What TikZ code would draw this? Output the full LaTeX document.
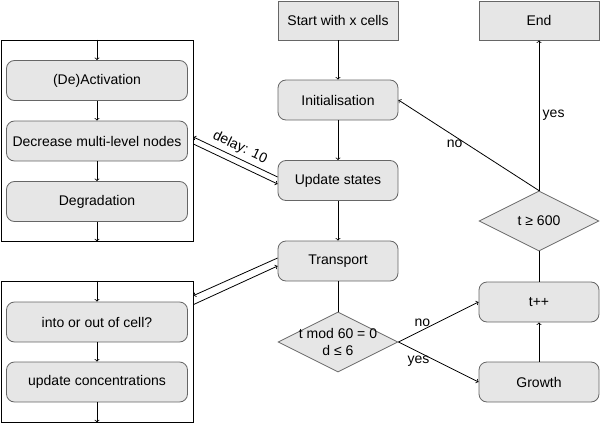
\documentclass[tikz,border=0pt]{standalone}
\usepackage{fontspec}
\setmainfont{Liberation Sans}
\usetikzlibrary{shapes,arrows}
\definecolor{boxfill}{HTML}{E6E6E6}
\definecolor{boxline}{HTML}{666666}
\tikzstyle{block} = [draw=boxline, fill=boxfill, text centered, minimum width=120pt, minimum height=39pt, line width=0.8pt]
\tikzstyle{rblock} = [block, rounded corners=8pt, minimum height=40pt]
\tikzstyle{subblock} = [rblock, minimum width=181pt]
\tikzstyle{decision} = [draw=boxline, fill=boxfill, diamond, minimum width=120pt, minimum height=60pt, inner sep=0pt, line width=0.8pt]
\tikzstyle{group} = [draw, line width=0.8pt, minimum width=192pt]
\tikzstyle{link} = [draw, line width=0.8pt]

\begin{document}
\begin{tikzpicture}[x=1pt, y=-1pt, font=\fontsize{14}{17}\selectfont]
	\useasboundingbox (0,0) rectangle (600,423);
	% main loop
	\node [block] (start) at (338,20.5) {Start with x cells};
	\node [rblock] (init) at (338,100) {Initialisation};
	\node [rblock] (update) at (338,180.5) {Update states};
	\node [rblock] (transport) at (338,261) {Transport};
	\node [decision, label={[align=center]center:t mod 60 = 0\\d ≤ 6}] (mod) at (338,342) {};
	\node [block] (end) at (539,20.5) {End};
	\node [decision, label=center:{t ≥ 600}] (check) at (539,221) {};
	\node [rblock] (tinc) at (539,302) {t++};
	\node [rblock] (growth) at (539,382) {Growth};
	% left groups
	\node [group, minimum height=201pt] (states) at (97,140.5) {};
	\node [subblock] (act) at (97,80.5) {(De)Activation};
	\node [subblock] (decr) at (97,141) {Decrease multi-level nodes};
	\node [subblock] (degr) at (97,201.5) {Degradation};
	\node [group, minimum height=141pt] (trans) at (97,351.5) {};
	\node [subblock] (inout) at (97,322) {into or out of cell?};
	\node [subblock] (conc) at (97,382) {update concentrations};

	\draw [->, link] (start) -- (init);
	\draw [->, link] (init) -- (update);
	\draw [->, link] (update) -- (transport);
	\draw [link] (transport) -- (mod);
	\draw [->, link] (mod.east) -- (tinc.west) node [pos=0.3, above] {no};
	\draw [->, link] (mod.east) -- (growth.west) node [pos=0.25, below] {yes};
	\draw [->, link] (growth) -- (tinc);
	\draw [link] (tinc) -- (check);
	\draw [->, link] (check.north) -- (end) node [midway, right] {yes};
	\draw [->, link] (check.north) -- (init.east) node [pos=0.6, below] {no};

	\draw [->, link] (states.north) -- (act);
	\draw [->, link] (act) -- (decr);
	\draw [->, link] (decr) -- (degr);
	\draw [->, link] (degr) -- (states.south);
	\draw [->, link] (trans.north) -- (inout);
	\draw [->, link] (inout) -- (conc);
	\draw [->, link] (conc) -- (trans.south);

	\draw [->, link] ([yshift=3.5pt]update.west) -- ([yshift=3.5pt]states.east) node [midway, above, sloped] {delay: 10};
	\draw [->, link] ([yshift=-3.5pt]states.east) -- ([yshift=-3.5pt]update.west);
	\draw [->, link] ([yshift=3pt]transport.west) -- ([yshift=-15pt]trans.north east);
	\draw [->, link] ([yshift=-24pt]trans.north east) -- ([yshift=-5pt]transport.west);
\end{tikzpicture}
\end{document}
